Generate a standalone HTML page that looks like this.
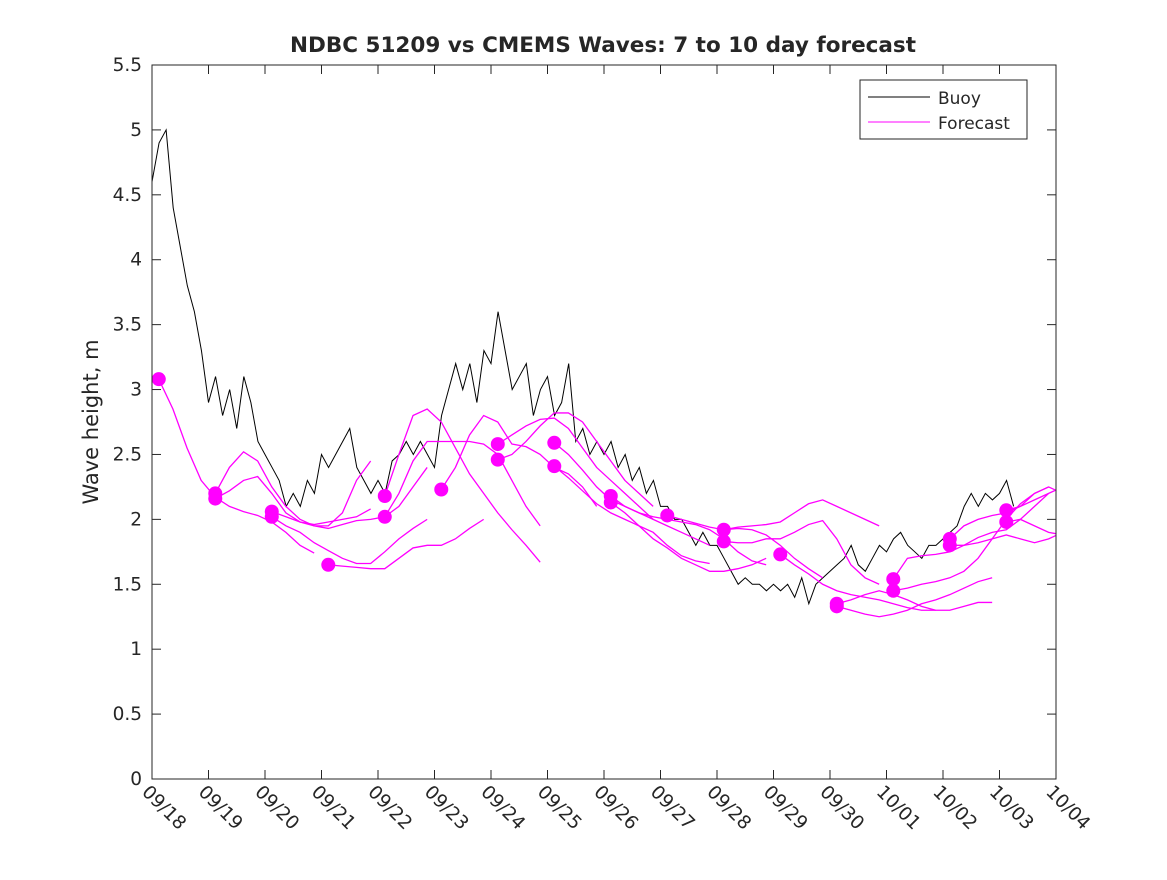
<!DOCTYPE html>
<html><head><meta charset="utf-8"><style>
body{margin:0;background:#fff;}
svg text{font-family:"DejaVu Sans","Liberation Sans",sans-serif;fill:#262626;}
</style></head><body>
<svg id="c" width="1167" height="875" xmlns="http://www.w3.org/2000/svg">
<rect width="1167" height="875" fill="#fff"/>
<text x="603" y="52" text-anchor="middle" font-size="21.5" font-weight="bold" fill="#000">NDBC 51209 vs CMEMS Waves: 7 to 10 day forecast</text>
<text transform="translate(98,422) rotate(-90)" text-anchor="middle" font-size="21">Wave height, m</text>
<g id="plot"></g>
</svg>
<script>
const xTickLabels=["09/18","09/19","09/20","09/21","09/22","09/23","09/24","09/25","09/26","09/27","09/28","09/29","09/30","10/01","10/02","10/03","10/04"];
const yTicks=[0,0.5,1,1.5,2,2.5,3,3.5,4,4.5,5,5.5];
const buoyStep=0.125;
const buoyValues=[4.6,4.9,5.0,4.4,4.1,3.8,3.6,3.3,
2.9,3.1,2.8,3.0,2.7,3.1,2.9,2.6,
2.5,2.4,2.3,2.1,2.2,2.1,2.3,2.2,
2.5,2.4,2.5,2.6,2.7,2.4,2.3,2.2,
2.3,2.2,2.45,2.5,2.6,2.5,2.6,2.5,
2.4,2.8,3.0,3.2,3.0,3.2,2.9,3.3,
3.2,3.6,3.3,3.0,3.1,3.2,2.8,3.0,
3.1,2.8,2.9,3.2,2.6,2.7,2.5,2.6,
2.5,2.6,2.4,2.5,2.3,2.4,2.2,2.3,
2.1,2.1,2.0,2.0,1.9,1.8,1.9,1.8,
1.8,1.7,1.6,1.5,1.55,1.5,1.5,1.45,
1.5,1.45,1.5,1.4,1.55,1.35,1.5,1.55,
1.6,1.65,1.7,1.8,1.65,1.6,1.7,1.8,
1.75,1.85,1.9,1.8,1.75,1.7,1.8,1.8,
1.85,1.9,1.95,2.1,2.2,2.1,2.2,2.15,
2.2,2.3,2.1];
const fcStarts=[0.12,1.12,1.12,2.12,2.12,3.12,4.12,4.12,5.12,6.12,6.12,7.12,7.12,8.12,8.12,9.12,10.12,10.12,11.12,12.12,12.12,13.12,13.12,14.12,14.12,15.12,15.12];
const fcStep=0.25;
const fcValues=[
[3.08,2.85,2.55,2.3,2.17,2.1,2.06,2.03,1.98,1.9,1.8,1.74],
[2.20,2.4,2.52,2.45,2.25,2.1,2.0,1.95,1.95,2.05,2.3,2.45],
[2.16,2.22,2.3,2.33,2.2,2.05,1.98,1.96,1.98,2.0,2.02,2.08],
[2.06,2.02,1.98,1.95,1.93,1.96,1.99,2.0,2.02,2.1,2.25,2.4],
[2.02,1.95,1.9,1.82,1.76,1.7,1.66,1.66,1.75,1.85,1.93,2.0],
[1.65,1.64,1.63,1.62,1.62,1.7,1.78,1.8,1.8,1.85,1.93,2.0],
[2.18,2.5,2.8,2.85,2.75,2.55,2.35,2.2,2.05,1.92,1.8,1.67],
[2.02,2.2,2.45,2.6,2.6,2.6,2.6,2.58,2.5,2.3,2.1,1.95],
[2.23,2.4,2.65,2.8,2.75,2.58,2.56,2.5,2.4,2.35,2.25,2.1],
[2.58,2.65,2.72,2.77,2.78,2.7,2.55,2.4,2.3,2.2,2.1,2.0],
[2.46,2.5,2.6,2.72,2.82,2.82,2.75,2.6,2.45,2.3,2.2,2.1],
[2.59,2.5,2.38,2.25,2.15,2.1,2.05,2.0,1.95,1.9,1.85,1.8],
[2.41,2.32,2.22,2.12,2.05,2.0,1.95,1.9,1.8,1.72,1.68,1.66],
[2.18,2.1,2.05,2.02,2.0,1.98,1.96,1.92,1.85,1.75,1.68,1.65],
[2.13,2.05,1.95,1.85,1.78,1.7,1.65,1.6,1.6,1.62,1.65,1.7],
[2.03,2.0,1.97,1.94,1.92,1.93,1.92,1.88,1.8,1.7,1.62,1.55],
[1.92,1.94,1.95,1.96,1.98,2.05,2.12,2.15,2.1,2.05,2.0,1.95],
[1.83,1.82,1.82,1.85,1.85,1.9,1.96,1.99,1.85,1.65,1.55,1.5],
[1.73,1.65,1.58,1.5,1.45,1.42,1.4,1.38,1.35,1.32,1.3,1.3],
[1.35,1.38,1.42,1.45,1.42,1.38,1.33,1.3,1.3,1.33,1.36,1.36],
[1.33,1.3,1.27,1.25,1.27,1.3,1.35,1.38,1.42,1.47,1.52,1.55],
[1.54,1.7,1.72,1.73,1.75,1.8,1.86,1.9,1.92,2.0,2.1,2.2],
[1.45,1.47,1.5,1.52,1.55,1.6,1.7,1.85,2.0,2.12,2.2,2.25],
[1.85,1.95,2.0,2.03,2.05,2.1,2.2,2.25,2.2,2.15,2.1,2.0],
[1.80,1.8,1.82,1.85,1.88,1.85,1.82,1.85,1.9,1.95,2.0,2.0],
[2.07,2.1,2.15,2.2,2.25],
[1.98,2.0,1.95,1.9,1.88]
];
const NS="http://www.w3.org/2000/svg";
const X0=152,X1=1056,Y0=779,Y1=65;
const xs=d=>X0+(X1-X0)*d/16;
const ys=v=>Y0-(Y0-Y1)*v/5.5;
const g=document.getElementById('plot');
function mk(t,a){const e=document.createElementNS(NS,t);for(const k in a)e.setAttribute(k,a[k]);g.appendChild(e);return e;}
const clip=document.createElementNS(NS,'clipPath');clip.setAttribute('id','cp');
const cr=document.createElementNS(NS,'rect');cr.setAttribute('x',X0);cr.setAttribute('y',Y1);cr.setAttribute('width',X1-X0);cr.setAttribute('height',Y0-Y1);clip.appendChild(cr);g.appendChild(clip);
// buoy
const bpts=buoyValues.map((v,i)=>xs(i*buoyStep)+','+ys(v)).join(' ');
const bl=mk('polyline',{points:bpts,fill:'none',stroke:'#000','stroke-width':1,'clip-path':'url(#cp)'});


fcValues.forEach((arr,i)=>{
  const pts=arr.map((v,j)=>xs(fcStarts[i]+j*fcStep)+','+ys(v)).join(' ');
  const pl=mk('polyline',{points:pts,fill:'none',stroke:'#ff00ff','stroke-width':1.3,'clip-path':'url(#cp)'});
  
  
  const c=mk('circle',{cx:xs(fcStarts[i]),cy:ys(arr[0]),r:7,fill:'#ff00ff'});
  
  
});
// axes box
const box=mk('rect',{x:X0,y:Y1,width:X1-X0,height:Y0-Y1,fill:'none',stroke:'#262626','stroke-width':1});


yTicks.forEach(v=>{const y=ys(v);
  mk('line',{x1:X0,x2:X0+9,y1:y,y2:y,stroke:'#262626'});
  mk('line',{x1:X1,x2:X1-9,y1:y,y2:y,stroke:'#262626'});
  const t=mk('text',{x:X0-10,y:y+6,'text-anchor':'end','font-size':18.5});t.textContent=String(v);
  
  
});
xTickLabels.forEach((s,i)=>{const x=xs(i);
  mk('line',{x1:x,x2:x,y1:Y0,y2:Y0-9,stroke:'#262626'});
  mk('line',{x1:x,x2:x,y1:Y1,y2:Y1+9,stroke:'#262626'});
  const t=mk('text',{transform:`translate(${x-11},${Y0+14}) rotate(45)`,'font-size':18.5});t.textContent=s;
  
  
});
// legend
const lg=mk('rect',{x:860,y:80,width:167,height:59,fill:'#fff',stroke:'#262626'});


mk('line',{x1:868,x2:930,y1:97,y2:97,stroke:'#000'});
mk('line',{x1:868,x2:930,y1:122,y2:122,stroke:'#ff00ff'});
const l1=mk('text',{x:938,y:104,'font-size':17});l1.textContent='Buoy';


const l2=mk('text',{x:938,y:129,'font-size':17});l2.textContent='Forecast';


</script>
</body></html>
